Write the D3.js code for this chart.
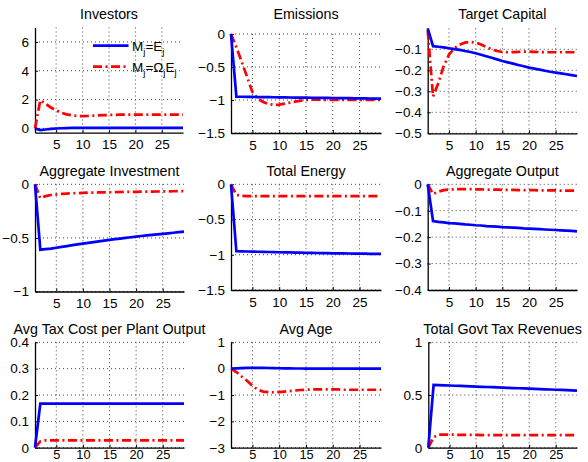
<!DOCTYPE html>
<html><head><meta charset="utf-8">
<script src="https://cdn.jsdelivr.net/npm/d3@7"></script>
<style>
html,body{margin:0;padding:0;background:#fff;}
svg{display:block;font-family:"Liberation Sans",Arial,Helvetica,sans-serif;}
</style></head>
<body>
<svg id="chart" width="588" height="462"></svg>
<script>
// ---- data ----
const periods = [1,2,3,4,5,6,7,8,9,10,11,12,13,14,15,16,17,18,19,20,21,22,23,24,25,26,27,28,29];
const xTicks = [5,10,15,20,25];
const titles = ["Investors","Emissions","Target Capital","Aggregate Investment","Total Energy","Aggregate Output","Avg Tax Cost per Plant Output","Avg Age","Total Govt Tax Revenues"];

const investorsBlue = [0,-0.12,-0.08,-0.04,-0.01,0.01,0.02,0.03,0.03,0.03,0.03,0.03,0.03,0.03,0.03,0.03,0.03,0.03,0.03,0.03,0.03,0.03,0.03,0.03,0.03,0.03,0.03,0.03,0.03];
const investorsRed  = [0,1.95,1.7,1.45,1.25,1.08,0.97,0.9,0.86,0.85,0.86,0.88,0.9,0.92,0.93,0.94,0.95,0.95,0.95,0.95,0.95,0.95,0.95,0.95,0.95,0.95,0.95,0.95,0.95];

const emissionsBlue = [0,-0.95,-0.951,-0.952,-0.953,-0.955,-0.956,-0.957,-0.958,-0.96,-0.961,-0.962,-0.963,-0.964,-0.965,-0.966,-0.967,-0.968,-0.969,-0.97,-0.971,-0.972,-0.973,-0.974,-0.975,-0.976,-0.977,-0.978,-0.979];
const emissionsRed  = [0,-0.2,-0.42,-0.65,-0.88,-0.98,-1.03,-1.06,-1.075,-1.07,-1.055,-1.04,-1.025,-1.01,-1.0,-0.995,-0.995,-0.995,-1.0,-1.0,-1.0,-1.0,-1.0,-1.0,-1.0,-1.0,-1.0,-1.0,-1.0];

const capitalBlue = [0,-0.085,-0.088,-0.091,-0.095,-0.099,-0.103,-0.108,-0.113,-0.119,-0.126,-0.133,-0.14,-0.148,-0.156,-0.162,-0.168,-0.175,-0.181,-0.187,-0.192,-0.197,-0.202,-0.207,-0.211,-0.215,-0.219,-0.223,-0.227];
const capitalRed  = [-0.01,-0.325,-0.26,-0.18,-0.125,-0.095,-0.078,-0.068,-0.065,-0.068,-0.077,-0.089,-0.1,-0.108,-0.113,-0.114,-0.113,-0.112,-0.111,-0.111,-0.112,-0.113,-0.113,-0.114,-0.114,-0.114,-0.114,-0.114,-0.114];

const investmentBlue = [0,-0.61,-0.605,-0.6,-0.592,-0.584,-0.576,-0.568,-0.56,-0.553,-0.546,-0.539,-0.532,-0.525,-0.518,-0.512,-0.506,-0.5,-0.494,-0.488,-0.482,-0.477,-0.472,-0.467,-0.462,-0.457,-0.452,-0.447,-0.442];
const investmentRed  = [0,-0.13,-0.11,-0.1,-0.095,-0.09,-0.087,-0.084,-0.082,-0.08,-0.078,-0.077,-0.076,-0.075,-0.074,-0.073,-0.072,-0.071,-0.07,-0.07,-0.069,-0.068,-0.068,-0.067,-0.066,-0.066,-0.065,-0.064,-0.064];

const energyBlue = [0,-0.95,-0.952,-0.954,-0.955,-0.957,-0.959,-0.961,-0.962,-0.964,-0.966,-0.967,-0.969,-0.97,-0.972,-0.973,-0.975,-0.976,-0.977,-0.979,-0.98,-0.981,-0.982,-0.983,-0.984,-0.985,-0.986,-0.987,-0.988];
const energyRed  = [0,-0.15,-0.165,-0.168,-0.168,-0.168,-0.168,-0.168,-0.168,-0.168,-0.168,-0.168,-0.168,-0.168,-0.168,-0.168,-0.168,-0.168,-0.168,-0.168,-0.168,-0.168,-0.168,-0.168,-0.168,-0.168,-0.168,-0.168,-0.168];

const outputBlue = [0,-0.139,-0.142,-0.144,-0.147,-0.148,-0.15,-0.152,-0.153,-0.155,-0.156,-0.158,-0.159,-0.16,-0.162,-0.163,-0.164,-0.165,-0.167,-0.168,-0.169,-0.17,-0.171,-0.172,-0.173,-0.174,-0.175,-0.176,-0.178];
const outputRed  = [0,-0.037,-0.028,-0.022,-0.02,-0.019,-0.018,-0.018,-0.018,-0.019,-0.019,-0.02,-0.02,-0.02,-0.021,-0.021,-0.021,-0.022,-0.022,-0.022,-0.022,-0.023,-0.023,-0.023,-0.023,-0.024,-0.024,-0.024,-0.024];

const taxCostBlue = [0,0.167,0.167,0.167,0.167,0.167,0.167,0.167,0.167,0.167,0.167,0.167,0.167,0.167,0.167,0.167,0.167,0.167,0.167,0.167,0.167,0.167,0.167,0.167,0.167,0.167,0.167,0.167,0.167];
const taxCostRed  = [0,0.024,0.028,0.028,0.028,0.028,0.028,0.028,0.028,0.028,0.028,0.028,0.028,0.028,0.028,0.028,0.028,0.028,0.028,0.028,0.028,0.028,0.028,0.028,0.028,0.028,0.028,0.028,0.028];

const ageBlue = [0,0.01,0.02,0.03,0.03,0.03,0.03,0.025,0.02,0.015,0.01,0.01,0.005,0.005,0,0,0,0,0,0,0,0,0,0,0,0,0,0,0];
const ageRed  = [0,-0.13,-0.3,-0.46,-0.65,-0.8,-0.87,-0.89,-0.9,-0.89,-0.87,-0.85,-0.83,-0.81,-0.8,-0.79,-0.79,-0.79,-0.79,-0.79,-0.79,-0.8,-0.8,-0.8,-0.8,-0.8,-0.8,-0.8,-0.8];

const revenueBlue = [0,0.595,0.593,0.592,0.59,0.588,0.586,0.584,0.582,0.58,0.578,0.576,0.574,0.572,0.57,0.568,0.566,0.564,0.562,0.56,0.558,0.556,0.554,0.552,0.55,0.548,0.546,0.544,0.542];
const revenueRed  = [0,0.1,0.125,0.125,0.124,0.123,0.122,0.122,0.121,0.121,0.12,0.12,0.12,0.12,0.12,0.12,0.12,0.12,0.12,0.12,0.12,0.12,0.12,0.12,0.12,0.12,0.12,0.12,0.12];

const yDomains = [[-0.3,7],[-1.5,0],[-0.5,0],[-1,0],[-1.5,0],[-0.4,0],[0,0.4],[-3,1],[0,1]];
const yTickValues = [[0,2,4,6],[-1.5,-1,-0.5,0],[-0.5,-0.4,-0.3,-0.2,-0.1],[-1,-0.5,0],[-1.5,-1,-0.5,0],[-0.4,-0.3,-0.2,-0.1,0],[0,0.1,0.2,0.3,0.4],[-3,-2,-1,0,1],[0,0.5,1]];
const blueSeries = [investorsBlue,emissionsBlue,capitalBlue,investmentBlue,energyBlue,outputBlue,taxCostBlue,ageBlue,revenueBlue];
const redSeries  = [investorsRed,emissionsRed,capitalRed,investmentRed,energyRed,outputRed,taxCostRed,ageRed,revenueRed];

// ---- layout (pixel boxes of each axes) ----
const boxes = [
  {l:35,  r:183, t:27.5, b:132.7, ty:14,    pad:7,  xf:13.5},
  {l:231, r:381, t:34,   b:133,   ty:14,    pad:7,  xf:13.5},
  {l:427.7,r:577,t:28.3, b:133.3, ty:14,    pad:7,  xf:13.5},
  {l:35,  r:184, t:184.3,b:291.5, ty:171,   pad:7,  xf:13.5},
  {l:231, r:381, t:184.3,b:290,   ty:171,   pad:7,  xf:13.5},
  {l:427.7,r:577,t:184.3,b:290,   ty:171,   pad:7,  xf:13.5},
  {l:35,  r:184, t:342.3,b:447.7, ty:328.5, pad:2.5,xf:12.8},
  {l:231, r:381, t:342.3,b:447.7, ty:328.5, pad:2.5,xf:12.8},
  {l:428.3,r:577,t:342.3,b:447.7, ty:328.5, pad:2.5,xf:12.8}
];

const svg = d3.select("#chart");
const fmt = v => d3.format("")(+v.toFixed(2)).replace("-", "\u2212");
const dashRed = "9,3.5,2,3.5";
const FONT = "Liberation Sans, Arial, sans-serif";

boxes.forEach((bx, i) => {
  const x = d3.scaleLinear().domain([1,29]).range([bx.l, bx.r]);
  const y = d3.scaleLinear().domain(yDomains[i]).range([bx.b, bx.t]);
  const g = svg.append("g");

  // grid
  g.selectAll(".gx").data(xTicks).join("line")
    .attr("x1", d => x(d)).attr("x2", d => x(d)).attr("y1", bx.t).attr("y2", bx.b)
    .attr("stroke", "#444").attr("stroke-width", 1).attr("stroke-dasharray", "1,3");
  g.selectAll(".gy").data(yTickValues[i]).join("line")
    .attr("x1", bx.l).attr("x2", bx.r).attr("y1", d => y(d)).attr("y2", d => y(d))
    .attr("stroke", "#444").attr("stroke-width", 1).attr("stroke-dasharray", "1,3");

  // axes
  const xa = g.append("g").attr("transform", `translate(0,${bx.b})`)
    .call(d3.axisBottom(x).tickValues(xTicks).tickSizeInner(-3).tickSizeOuter(0).tickPadding(bx.pad));
  const ya = g.append("g").attr("transform", `translate(${bx.l},0)`)
    .call(d3.axisLeft(y).tickValues(yTickValues[i]).tickSizeInner(-3).tickSizeOuter(0).tickPadding(6).tickFormat(fmt));
  [xa, ya].forEach(a => {
    a.select(".domain").attr("stroke", "#000").attr("stroke-width", 1.3);
    a.selectAll(".tick line").attr("stroke", "#000");
    a.selectAll("text").attr("font-size", 13.5).attr("fill", "#000").attr("font-family", FONT);
  });
  xa.selectAll("text").attr("font-size", bx.xf);

  // lines
  const line = s => d3.line().x((d, k) => x(periods[k])).y(d => y(d))(s);
  g.append("path").attr("d", line(redSeries[i])).attr("fill", "none")
    .attr("stroke", "#ff0000").attr("stroke-width", 2.7).attr("stroke-dasharray", dashRed);
  g.append("path").attr("d", line(blueSeries[i])).attr("fill", "none")
    .attr("stroke", "#0000ff").attr("stroke-width", 2.7);

  // title
  svg.append("text").attr("x", (bx.l + bx.r) / 2).attr("y", bx.ty)
    .attr("text-anchor", "middle").attr("dominant-baseline", "central")
    .attr("font-family", FONT).attr("font-size", 14.3).text(titles[i]);
});

// legend in first panel
const lg = svg.append("g");
lg.append("line").attr("x1", 93).attr("x2", 128.5).attr("y1", 45.7).attr("y2", 45.7)
  .attr("stroke", "#0000ff").attr("stroke-width", 2.7);
lg.append("line").attr("x1", 93).attr("x2", 128.5).attr("y1", 66.7).attr("y2", 66.7)
  .attr("stroke", "#ff0000").attr("stroke-width", 2.7).attr("stroke-dasharray", dashRed);
function legText(yv, parts) {
  const t = lg.append("text").attr("x", 132).attr("y", yv)
    .attr("font-family", FONT).attr("font-size", 13.5);
  let lastSub = false;
  parts.forEach(p => {
    if (p.sub) {
      t.append("tspan").attr("font-size", 9.5).attr("dy", lastSub ? 0 : 4).text(p.s);
      lastSub = true;
    } else {
      t.append("tspan").attr("dy", lastSub ? -4 : 0).text(p.s);
      lastSub = false;
    }
  });
}
legText(50.5, [{s:"M"},{s:"j",sub:true},{s:"=E"},{s:"j",sub:true}]);
legText(71.5, [{s:"M"},{s:"j",sub:true},{s:"=\u03A9"},{s:"j",sub:true},{s:"E"},{s:"j",sub:true}]);
</script>
</body></html>
